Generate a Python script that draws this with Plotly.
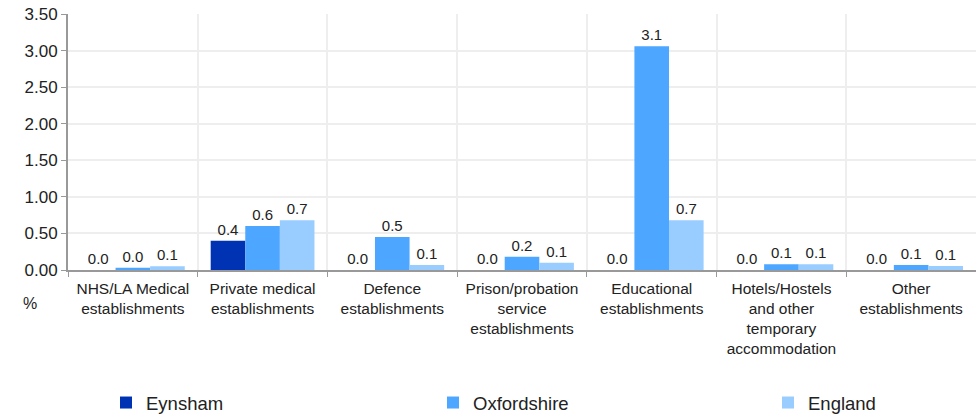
import plotly.graph_objects as go

categories = ['NHS/LA Medical<br>establishments', 'Private medical<br>establishments',
              'Defence<br>establishments', 'Prison/probation<br>service<br>establishments',
              'Educational<br>establishments', 'Hotels/Hostels<br>and other<br>temporary<br>accommodation',
              'Other<br>establishments']
eynsham = [0.0, 0.40, 0.0, 0.0, 0.0, 0.0, 0.0]
oxfordshire = [0.03, 0.60, 0.45, 0.18, 3.06, 0.08, 0.07]
england = [0.05, 0.68, 0.07, 0.10, 0.68, 0.08, 0.055]

colors = {'Eynsham': '#0033b4', 'Oxfordshire': '#4da6ff', 'England': '#99ccff'}
series = [('Eynsham', eynsham, 'legend'), ('Oxfordshire', oxfordshire, 'legend2'),
          ('England', england, 'legend3')]

fig = go.Figure()
for name, vals, leg in series:
    fig.add_trace(go.Bar(
        x=categories, y=vals, name=name, marker_color=colors[name],
        marker_line_width=0, legend=leg,
        text=[f'{v:.1f}' for v in vals], textposition='outside', cliponaxis=False,
        textfont=dict(size=15, color='#222222'),
    ))

W, H = 976, 414

# one legend per series so the entries can sit far apart like the original
leg_x = {'legend': 106, 'legend2': 433, 'legend3': 768}
legends = {}
for leg, px_x in leg_x.items():
    legends[leg] = dict(xref='container', yref='container', x=px_x / W, y=11 / H,
                        xanchor='left', yanchor='middle', font=dict(size=18.5),
                        bgcolor='rgba(0,0,0,0)')

fig.update_layout(
    width=W, height=H,
    margin=dict(l=68, r=0, t=14, b=144, autoexpand=False),
    plot_bgcolor='white', paper_bgcolor='white',
    barmode='group', bargap=0.2, bargroupgap=0,
    font=dict(family='Liberation Sans', color='#222222'),
    showlegend=True,
    **legends,
)
fig.update_yaxes(range=[0, 3.5], dtick=0.5, tickformat='.2f', automargin=False,
                 ticklabeloverflow='allow',
                 showgrid=True, gridcolor='#eeeeee', gridwidth=2,
                 showline=True, linecolor='#999999', linewidth=2,
                 ticks='outside', tickcolor='#999999', ticklen=5,
                 tickfont=dict(size=17), zeroline=False)
fig.update_xaxes(tickson='boundaries', showgrid=True, gridcolor='#eeeeee', gridwidth=2,
                 showline=True, linecolor='#999999', linewidth=2, automargin=False,
                 ticks='outside', tickcolor='#999999', ticklen=5, ticklabelstandoff=3,
                 tickangle=0, tickfont=dict(size=15.5))
fig.add_annotation(text='%', xref='paper', yref='paper', x=-0.0419, y=-0.129,
                   xanchor='center', yanchor='middle',
                   showarrow=False, font=dict(size=16))

# drop the default page margin so the figure fills the window exactly
fig.write_html('out.html', config={'displayModeBar': False},
               post_script="document.body.style.margin='0';")
